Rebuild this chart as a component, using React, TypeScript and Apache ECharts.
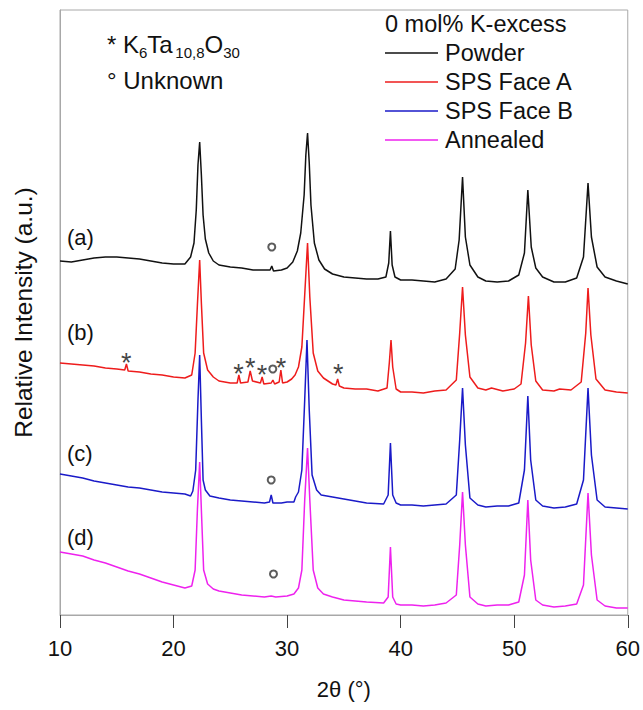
import React, { useEffect, useRef } from "react";
import * as echarts from "echarts";

const FONT = "'Liberation Sans', Arial, sans-serif";

// x ticks (2θ, degrees)
const xMin = 10;
const xMax = 60;
const xStep = 10;

const seriesNames = ["Powder", "SPS Face A", "SPS Face B", "Annealed"];
const seriesColors = ["#111111", "#ee1c1c", "#1a1ac8", "#ee22ee"];
const traceLabels = ["(a)", "(b)", "(c)", "(d)"];

// Offset XRD patterns, [2θ, relative intensity (a.u.)]
const powderData = [
  [10, 354], [11, 353], [12, 355], [13, 357], [14, 358], [15, 358], [16, 357], [17, 356], [18, 354], [19, 352],
  [20, 351], [21, 351], [21.5, 358], [21.8, 372], [22.0, 405], [22.15, 450], [22.3, 473], [22.45, 440], [22.6, 400],
  [22.8, 376], [23.1, 362], [23.5, 354], [24, 350], [25, 348], [26, 347], [27, 345], [28, 345], [28.5, 345],
  [28.65, 349], [28.8, 344], [29.5, 345], [30, 347], [30.5, 353], [30.9, 364], [31.2, 382], [31.5, 420], [31.65, 460],
  [31.8, 482], [31.95, 452], [32.1, 410], [32.4, 372], [32.8, 355], [33.3, 346], [34, 341], [35, 338], [36, 337],
  [37, 336], [38, 336], [38.7, 338], [38.95, 352], [39.1, 384], [39.25, 350], [39.5, 338], [40, 335], [41, 335],
  [42, 334], [43, 333], [44, 336], [44.8, 346], [45.15, 375], [45.45, 438], [45.7, 378], [46.1, 350], [46.8, 338],
  [47.5, 334], [48.5, 333], [49.5, 334], [50.4, 340], [50.9, 362], [51.2, 425], [51.5, 368], [51.9, 347], [52.5, 338],
  [53.5, 333], [54.5, 333], [55.5, 337], [56.1, 358], [56.5, 432], [56.8, 378], [57.3, 348], [58, 338], [59, 334],
  [60, 331],
];

const faceAData = [
  [10, 252], [11, 251], [12, 250], [13, 249], [14, 247], [15, 246], [15.7, 245], [15.85, 251], [16.0, 244], [17, 243],
  [18, 241], [19, 240], [20, 238], [21, 237], [21.6, 240], [21.9, 262], [22.1, 310], [22.3, 355], [22.45, 312],
  [22.65, 262], [23, 245], [23.5, 238], [24, 234], [25, 232], [25.6, 232], [25.75, 240], [25.9, 232], [26.55, 233],
  [26.75, 244], [26.95, 234], [27.65, 232], [27.8, 238], [27.95, 231], [28.6, 232], [28.75, 235], [28.9, 231],
  [29.3, 233], [29.45, 245], [29.6, 232], [30, 233], [30.4, 236], [30.7, 240], [31.0, 248], [31.3, 268], [31.55, 320],
  [31.8, 372], [32.0, 318], [32.3, 262], [32.7, 244], [33.2, 237], [34.0, 231], [34.3, 230], [34.45, 236], [34.6, 229],
  [35, 227], [36, 226], [37, 226], [38, 224], [38.8, 227], [39.0, 252], [39.15, 275], [39.3, 248], [39.6, 226],
  [40, 223], [41, 223], [42, 222], [43, 224], [44, 225], [44.9, 235], [45.2, 282], [45.45, 328], [45.7, 280],
  [46.1, 238], [46.8, 227], [47.5, 225], [48, 227], [49, 224], [50, 226], [50.6, 231], [51.0, 272], [51.25, 319],
  [51.5, 270], [51.9, 234], [52.5, 225], [53.5, 224], [54, 226], [55, 225], [55.9, 233], [56.3, 282], [56.5, 327],
  [56.75, 280], [57.2, 236], [58, 225], [59, 223], [60, 222],
];

const faceBData = [
  [10, 141], [11, 139], [12, 137], [13, 134], [14, 132], [15, 130], [16, 128], [17, 127], [18, 125], [19, 123],
  [20, 122], [21, 121], [21.5, 119], [21.7, 124], [21.95, 145], [22.15, 215], [22.3, 260], [22.45, 195], [22.6, 135],
  [22.8, 125], [23.2, 119], [24, 117], [25, 115], [26, 114], [27, 113], [28, 112], [28.45, 113], [28.6, 120],
  [28.75, 112], [29.5, 112], [30, 113], [30.6, 113], [30.75, 118], [31.0, 123], [31.3, 145], [31.55, 215],
  [31.75, 275], [31.95, 205], [32.2, 140], [32.6, 125], [33, 120], [34, 118], [35, 116], [36, 114], [37, 112],
  [38.5, 111], [38.9, 120], [39.1, 172], [39.3, 120], [39.6, 112], [40, 110], [41, 110], [42, 109], [43, 110],
  [44, 111], [44.9, 120], [45.2, 175], [45.45, 227], [45.7, 170], [46.1, 117], [46.8, 110], [47.5, 108], [48.5, 109],
  [49.5, 109], [50.4, 112], [50.9, 145], [51.2, 219], [51.45, 155], [51.9, 115], [52.5, 109], [53.5, 107],
  [54.5, 108], [55.5, 111], [56.1, 135], [56.5, 227], [56.8, 160], [57.3, 115], [58, 108], [59, 107], [60, 106],
];

const annealedData = [
  [10, 63], [11, 61], [12, 59], [13, 55], [14, 52], [15, 48], [16, 44], [17, 41], [18, 37], [19, 33], [20, 30],
  [21, 27], [21.6, 29], [21.9, 45], [22.1, 105], [22.3, 153], [22.45, 105], [22.65, 45], [23, 31], [23.5, 26],
  [24, 24], [25, 22], [26, 20], [27, 19], [28, 18], [28.6, 19], [29, 18], [30, 19], [30.6, 21], [31.0, 27],
  [31.3, 45], [31.55, 115], [31.8, 167], [32.0, 115], [32.3, 45], [32.7, 27], [33.2, 21], [34, 18], [35, 15],
  [36, 14], [37, 13], [38.5, 12], [38.9, 18], [39.1, 68], [39.3, 18], [39.6, 11], [40, 10], [41, 10], [42, 9],
  [43, 10], [44, 12], [44.9, 20], [45.2, 70], [45.45, 123], [45.7, 70], [46.1, 18], [46.8, 11], [47.5, 9],
  [48.5, 10], [49.5, 10], [50.4, 13], [50.9, 40], [51.2, 115], [51.45, 55], [51.9, 15], [52.5, 10], [53.5, 8],
  [54.5, 9], [55.5, 11], [56.1, 30], [56.5, 122], [56.8, 60], [57.3, 15], [58, 9], [59, 7], [60, 7],
];

// Phase markers: * = K6Ta10,8O30, ° = unknown
const starMarks = [[15.84, 258], [25.73, 247], [26.76, 253], [27.8, 246], [29.47, 253], [34.5, 247]];
const unknownMarks = [[28.65, 368], [28.74, 246], [28.6, 135], [28.8, 41]];

// Phase annotation text fragments: [text, isSubscript]
const phaseFormula: [string, boolean][] = [["* K", false], ["6", true], ["Ta", false], ["10,8", true], ["O", false], ["30", true]];

// Positions (pixels) of the (a)-(d) trace labels
const traceLabelY = [237, 332, 453, 537];

// Arial / Liberation Sans advance widths (em) for laying out the formula fragments
const CHAR_W: Record<string, number> = {
  "*": 0.389, " ": 0.278, K: 0.667, T: 0.611, a: 0.556, O: 0.778, ",": 0.278,
  "0": 0.556, "1": 0.556, "3": 0.556, "6": 0.556, "8": 0.556,
};
const textWidth = (s: string, size: number) => s.split("").reduce((w, c) => w + (CHAR_W[c] ?? 0.556) * size, 0);

export default function App() {
  const ref = useRef<HTMLDivElement>(null);

  useEffect(() => {
    document.body.style.margin = "0";
    const chart = echarts.init(ref.current!, null, { renderer: "svg" });
    const datasets = [powderData, faceAData, faceBData, annealedData];

    const lineSeries = datasets.map((d, i) => ({
      name: seriesNames[i],
      type: "line",
      data: d,
      showSymbol: false,
      symbol: "none",
      lineStyle: { width: 1.5, color: seriesColors[i] },
      itemStyle: { color: seriesColors[i] },
      z: 2 + i,
    }));

    // formula fragments laid out left to right (baseline 53, subscripts 5px lower)
    const mainSize = 24;
    const subSize = 15;
    const baseline = 53;
    let cx = 107;
    const formulaTexts = phaseFormula.map(([t, sub]) => {
      const size = sub ? subSize : mainSize;
      const base = sub ? baseline + 5 : baseline;
      const el = {
        type: "text",
        x: cx,
        y: base - 0.3465 * size,
        style: { text: t, fontFamily: FONT, fontSize: size, fill: "#111", align: "left", verticalAlign: "middle" },
      };
      cx += textWidth(t, size);
      return el;
    });

    const option: any = {
      animation: false,
      backgroundColor: "#ffffff",
      textStyle: { fontFamily: FONT },
      grid: { left: 60, right: 14, top: 10, bottom: 95, show: true, borderColor: "#a8a8a8", borderWidth: 1 },
      title: {
        text: "0 mol% K-excess",
        left: 385,
        top: 12,
        padding: 0,
        textStyle: { fontFamily: FONT, fontSize: 23.5, fontWeight: "normal", color: "#111" },
      },
      legend: {
        data: seriesNames,
        orient: "vertical",
        left: 385,
        top: 41,
        padding: 0,
        icon: "rect",
        itemWidth: 53,
        itemHeight: 1.5,
        itemGap: 5,
        textStyle: { fontFamily: FONT, fontSize: 23.5, lineHeight: 24, color: "#111", padding: [0, 0, 0, 2] },
      },
      xAxis: {
        type: "value",
        min: xMin,
        max: xMax,
        interval: xStep,
        name: "2θ (°)",
        nameLocation: "middle",
        nameGap: 63,
        nameTextStyle: { fontFamily: FONT, fontSize: 22, color: "#111" },
        axisLine: { show: true, lineStyle: { color: "#a8a8a8", width: 1 } },
        axisTick: { show: true, inside: false, length: 13, lineStyle: { color: "#444", width: 1 } },
        axisLabel: { fontFamily: FONT, fontSize: 22, color: "#111", margin: 22 },
        splitLine: { show: false },
      },
      yAxis: {
        type: "value",
        min: 0,
        max: 605,
        name: "Relative Intensity (a.u.)",
        nameLocation: "middle",
        nameGap: 24,
        nameTextStyle: { fontFamily: FONT, fontSize: 24.5, color: "#111" },
        axisLine: { show: true, lineStyle: { color: "#a8a8a8", width: 1 } },
        axisTick: { show: false },
        axisLabel: { show: false },
        splitLine: { show: false },
      },
      series: [
        ...lineSeries,
        {
          name: "stars",
          type: "scatter",
          data: starMarks,
          symbol: "circle",
          symbolSize: 1,
          itemStyle: { color: "rgba(0,0,0,0)" },
          label: {
            show: true,
            position: "inside",
            formatter: "*",
            fontFamily: FONT,
            fontSize: 27,
            color: "#111",
            offset: [0, 6],
          },
          z: 10,
        },
        {
          name: "unknown",
          type: "scatter",
          data: unknownMarks,
          symbol: "emptyCircle",
          symbolSize: 7,
          itemStyle: { color: "#333333", borderColor: "#333333", borderWidth: 1.3 },
          z: 10,
        },
      ],
      graphic: [
        ...traceLabels.map((t, i) => ({
          type: "text",
          x: 67,
          y: traceLabelY[i],
          style: { text: t, fontFamily: FONT, fontSize: 22, fill: "#111", align: "left", verticalAlign: "middle" },
        })),
        ...formulaTexts,
        {
          type: "text",
          x: 107,
          y: 80,
          style: { text: "° Unknown", fontFamily: FONT, fontSize: 24, fill: "#111", align: "left", verticalAlign: "middle" },
        },
      ],
    };

    chart.setOption(option);
    return () => chart.dispose();
  }, []);

  return <div ref={ref} style={{ width: 643, height: 710 }} />;
}
